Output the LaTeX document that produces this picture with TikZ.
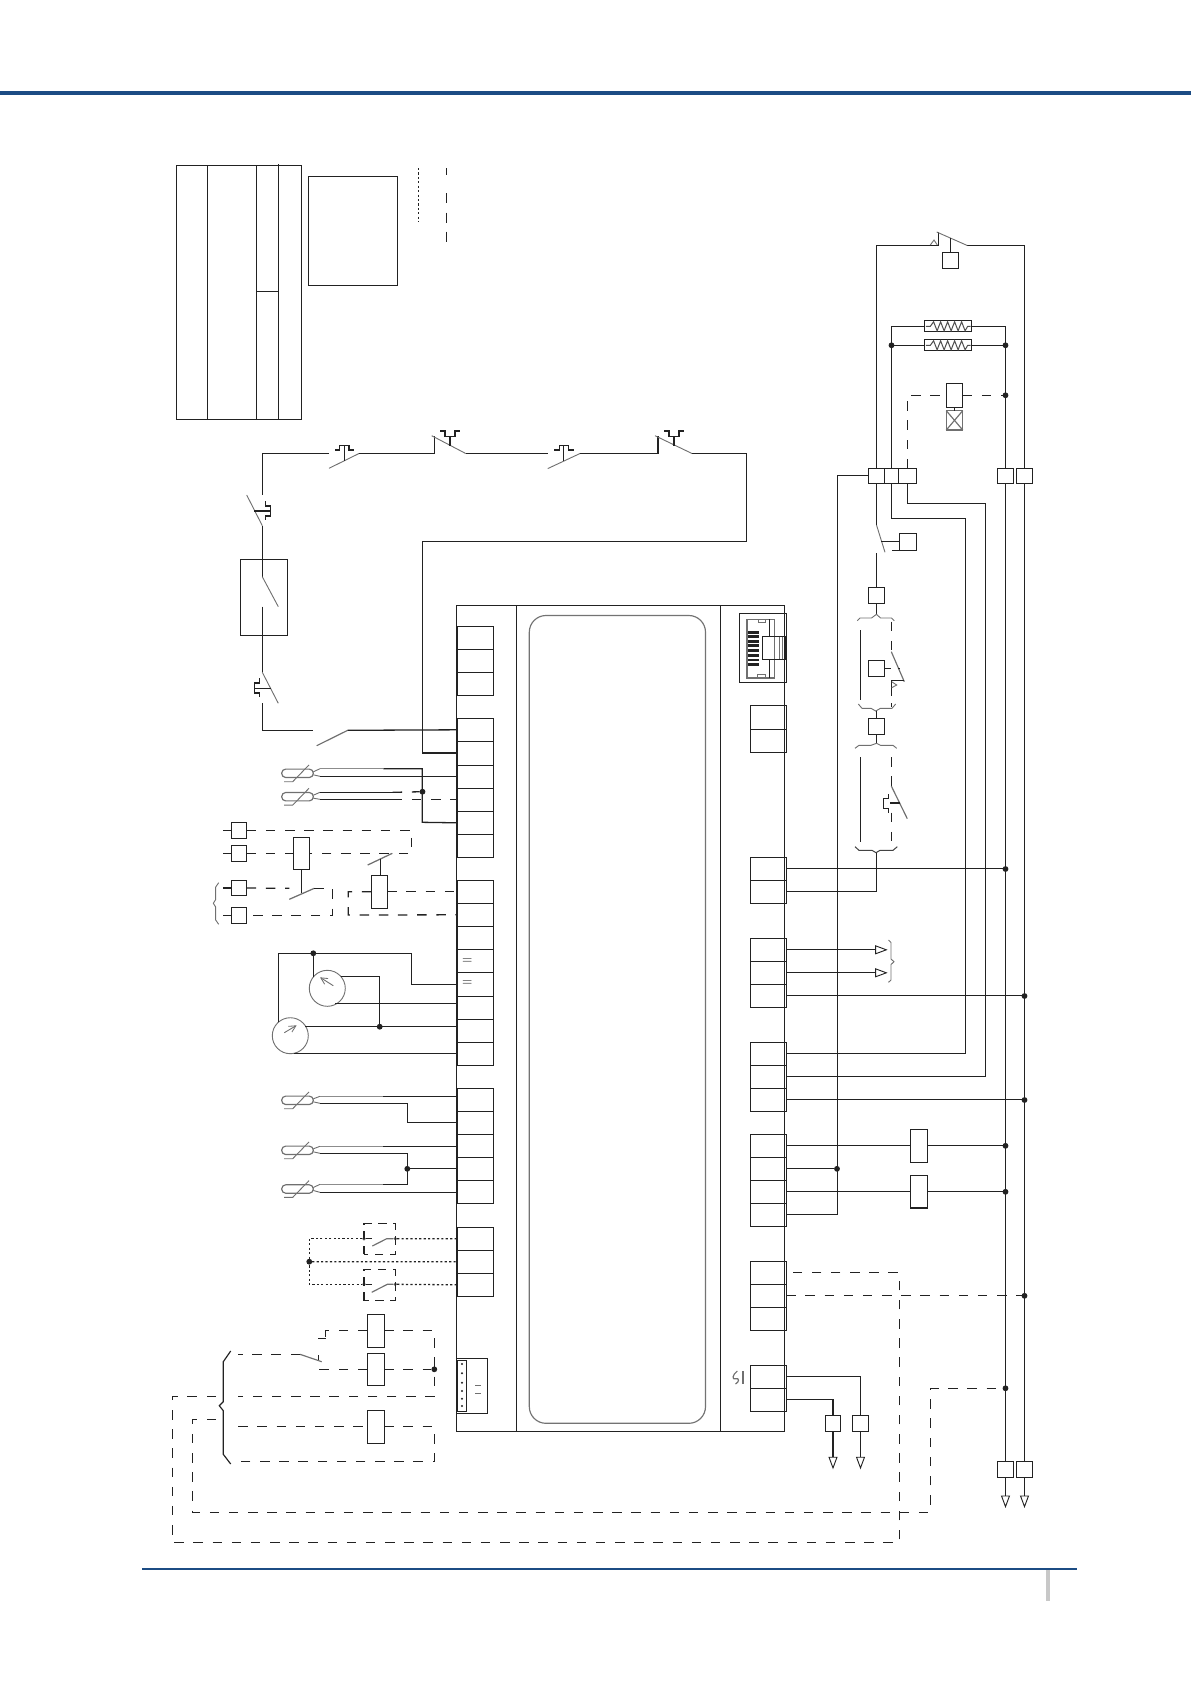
\documentclass[tikz,border=0pt]{standalone}
\usetikzlibrary{arrows.meta,calc}
\definecolor{ink}{HTML}{222222}
\definecolor{bluebar}{HTML}{1C4C84}
\definecolor{greybar}{HTML}{C8C8C8}
\definecolor{thin}{HTML}{707070}
\tikzset{
  wire/.style={line width=.78pt,draw=ink},
  dsh/.style={wire,dash pattern=on 5.7pt off 5.8pt},
  dtd/.style={wire,dash pattern=on 1.3pt off 1.35pt},
  gl/.style={line width=.55pt,draw=thin},
  graywire/.style={line width=.9pt,draw=black!45},
  boxs/.style={rectangle,wire,inner sep=0pt,outer sep=0pt},
  jn/.style={circle,fill=ink,draw=none,inner sep=0pt,outer sep=0pt,minimum size=3.5pt},
  cn/.style={circle,fill=black!65,draw=none,inner sep=0pt,outer sep=0pt,minimum size=2.2pt},
  arr/.style={wire,-{Triangle[open,length=7.5pt,width=5.4pt,line width=.55pt]}},
  needle/.style={gl,-{Straight Barb[length=4pt,width=4pt,line width=.5pt]}}
}
\newcommand\Rb[6][]{%
  \pgfmathsetmacro\rbw{((#5)-(#3))*0.6}\pgfmathsetmacro\rbh{((#6)-(#4))*0.6}%
  \node[boxs,minimum width=\rbw pt,minimum height=\rbh pt,#1] (#2) at ({((#3)+(#5))/2},{((#4)+(#6))/2}) {};}
\newcommand\Cells[4]{%
  \foreach \yy [count=\ii, remember=\yy as \pv (initially 0)] in {#4} {%
    \ifnum\ii>1 \pgfmathtruncatemacro\jj{\ii-1}\Rb{#1\jj}{#2}{\pv}{#3}{\yy}\fi}}
\newcommand\Jn[3]{\node[jn] (#1) at (#2,#3) {};}
% sensor: name, centre y, upper wire y, lower wire y
\newcommand\Snsr[4]{%
  \Rb[gl,line width=.7pt,rounded corners=2.4pt]{#1}{281.7}{#2-4.2}{313.3}{#2+4.2}
  \coordinate (#1u) at (320,#3);
  \coordinate (#1g) at (383.3,#3);
  \coordinate (#1l) at (320,#4);
  \draw[gl] (313.3,#2-1.5) -- (#1u);
  \draw[gl] (313.3,#2+1.5) -- (#1l);
  \draw[graywire] (#1u) -- (#1g);
  \draw[gl] (284,#2+8.4) -- (292.7,#2+8.4) -- (309,#2-8.4);}
\newcommand\Resist[5]{%
  \Rb{#1}{#2}{#3}{#4}{#5}
  \pgfmathsetmacro\rc{((#3)+(#5))/2}%
  \draw[line width=.6pt,draw=ink!80] (#2+1.5,\rc) -- (#2+6,\rc)
    \foreach \k in {0,...,4} { -- ({#2+9.3+\k*7},\rc-4.5) -- ({#2+12.8+\k*7},\rc+4.5) }
    -- (#4-4,\rc) -- (#4-1,\rc);}
\begin{document}
\begin{tikzpicture}[x=0.6pt,y=-0.6pt]
\useasboundingbox (0,0) rectangle (1191,1684);
% page furniture
\fill[bluebar] (0,90.7) rectangle (1191,95.3);
\fill[bluebar] (142,1568) rectangle (1076.7,1570.2);
\fill[greybar] (1046,1570.2) rectangle (1050,1600.7);
% table top left
\Rb{tbl}{176.3}{165.3}{301.3}{419.3}
\draw[wire] (207.3,165.3) -- (207.3,419.3);
\draw[wire] (256.3,165.3) -- (256.3,419.3);
\draw[wire] (278.3,164) -- (278.3,419.3);
\draw[wire] (256.3,291.3) -- (278.3,291.3);
\Rb{legbox}{308.3}{176.3}{397.7}{285.3}
\draw[line width=.7pt,draw=ink,dash pattern=on 1.3pt off 1.35pt] (418.3,168) -- (418.3,222);
\draw[wire] (446.3,168) -- (446.3,175) (446.3,193) -- (446.3,203) (446.3,212.7) -- (446.3,222.7) (446.3,231.7) -- (446.3,241.7);
% controller module
\Rb{mod}{456.7}{605.3}{784.3}{1431.5}
\draw[wire] (516.3,605.3) -- (516.3,1431.5);
\draw[wire] (720.7,605.3) -- (720.7,1431.5);
\Rb[line width=.7pt,draw=black!55,rounded corners=10pt]{disp}{529.3}{615.5}{705.5}{1423.3}
% left terminals
\Cells{La}{457.3}{493.3}{626.3,649.3,672.3,695.3}
\Cells{Lb}{457.3}{493.3}{718.3,741.3,765.3,788.3,811.3,834.3,857.3}
\Cells{Lc}{457.3}{493.3}{880.3,903.3,926.3,949.3,972.3,996.3,1019.3,1042.3,1065.3}
\Cells{Ld}{457.3}{493.3}{1088.3,1111.3,1134.3,1157.3,1180.3,1203.3}
\Cells{Le}{457.3}{493.3}{1227.3,1250.3,1273.3,1296.3}
\node[inner sep=0pt,font=\fontsize{7.5}{8}\selectfont,text=ink] (eqa) at (467.2,961.5) {=};
\node[inner sep=0pt,font=\fontsize{7.5}{8}\selectfont,text=ink] (eqb) at (467.2,983.5) {=};
% connector
\Rb{conO}{456.7}{1358.3}{487.3}{1413.3}
\Rb{conI}{457.3}{1360.7}{466.7}{1411.3}
\foreach \y in {1364,1373.3,1382.7,1391,1398.7,1406} \fill[ink] (462,\y) circle (1.1);
\draw[gl] (475,1385) -- (480.7,1385);
\draw[gl] (475,1393.3) -- (480.7,1393.3);
% right terminals
\Rb{rjO}{739.3}{613.3}{786.3}{682.3}
\Rb[gl,line width=.8pt]{rjI}{747}{619.3}{774.3}{678}
\Rb[gl]{rjTa}{758.3}{619.3}{765.7}{622.3}
\Rb[gl]{rjTb}{757.3}{674.7}{765.7}{678}
\foreach \y in {632.7,636.7,641.3,645.7,650.7,655.3,660,664.7} \fill[ink] (747.7,\y-1.3) rectangle (759,\y+1.3);
\Rb{rjL}{762.3}{636.7}{786}{659.3}
\draw[wire] (769.3,619.3) -- (769.3,636.7);
\draw[wire] (769.3,659.3) -- (769.3,678);
\draw[gl] (779,636.7) -- (779,659.3);
\draw[gl] (782.3,636.7) -- (782.3,659.3);
\Cells{Ra}{750.3}{786.3}{705.3,729.3,752.3}
\Cells{Rb}{750.3}{786.3}{857.3,880.3,903.3}
\Cells{Rc}{750.3}{786.3}{938.3,961.3,984.3,1007.3}
\Cells{Rd}{750.3}{786.3}{1042.3,1065.3,1088.3,1111.3}
\Cells{Re}{750.3}{786.3}{1134.3,1157.3,1180.3,1203.3,1226.3}
\Cells{Rf}{750.3}{786.3}{1261.3,1284.3,1307.3,1330.3}
\Cells{Rg}{750.3}{786.3}{1365.3,1388.3,1411.3}
\draw[gl,line width=.7pt] (737.3,1371) .. controls (732,1375) and (732,1380) .. (735.5,1378.8) .. controls (739.5,1377.5) and (739.5,1382) .. (735.5,1384);
\draw[gl,line width=.7pt] (743,1371) -- (743,1384);

% ---- safety chain ----
\coordinate (ch1) at (262.3,453.5);
\coordinate (ch2) at (329,453.5);
\coordinate (ch3) at (359,453.5);
\coordinate (ch4) at (434.3,453.5);
\coordinate (ch5) at (434.3,435.7);
\coordinate (ch6) at (465.7,453.5);
\coordinate (ch7) at (547.7,453.5);
\coordinate (ch8) at (580,453.5);
\coordinate (ch9) at (658,453.5);
\coordinate (ch10) at (658,435.7);
\coordinate (ch11) at (692,453.5);
\coordinate (ch12) at (746.5,541.3);
\coordinate (ch13) at (422.3,753);
\draw[wire] (ch2) -- (ch1) -- (262.3,495);
\draw[wire] (ch3) -- (ch4) -- (ch5);
\draw[wire] (ch6) -- (ch7);
\draw[wire] (ch8) -- (ch9) -- (ch10);
\draw[wire] (ch11) -| (ch12) -- (422.3,541.3) -- (ch13) -- (ch13 -| Lb2.west);
\draw[gl] (329,468.3) -- (ch3);
\draw[gl] (431.7,435.7) -- (ch6);
\draw[gl] (547.7,468.6) -- (ch8);
\draw[gl] (655,435.7) -- (ch11);
% actuators on the chain
\foreach \ax in {344.3,563.7} {
  \draw[wire,line width=.65pt] (\ax-9.3,450) -- (\ax-4.6,450) -- (\ax-4.6,445.7) -- (\ax+4.7,445.7) -- (\ax+4.7,450) -- (\ax+10,450);
  \draw[wire,line width=.65pt] (\ax,445.7) -- (\ax,460.7);}
\draw[wire,line width=.65pt] (440,431) -- (445,431) -- (445,436.7) -- (455,436.7) -- (455,431) -- (460,431);
\draw[wire,line width=.65pt] (450,436.7) -- (450,445.7);
\draw[wire,line width=.65pt] (664,431) -- (669,431) -- (669,436.7) -- (679,436.7) -- (679,431) -- (684,431);
\draw[wire,line width=.65pt] (674,436.7) -- (674,445.7);
% left column of chain
\draw[gl] (246.7,495) -- (262.3,525.7);
\draw[wire,line width=.65pt] (254.3,511) -- (270.7,511) (265.3,501) -- (265.3,506) -- (270.7,506) -- (270.7,516) -- (265.3,516) -- (265.3,520);
\draw[wire] (262.3,525.7) -- (262.3,576.7);
\draw[gl] (262.3,576.7) -- (278.3,606.7);
\draw[wire] (262.3,606.7) -- (262.3,672.3);
\Rb{bKey}{240.3}{559.3}{287.7}{635.3}
\draw[gl] (262.3,672.3) -- (278.3,703.3);
\draw[wire,line width=.65pt] (254.3,688.3) -- (270.7,688.3) (259.3,678.3) -- (259.3,683) -- (254.3,683) -- (254.3,693) -- (259.3,693) -- (259.3,697.3);
\coordinate (ch14) at (262.3,703.3);
\coordinate (ch15) at (313.3,730.3);
\coordinate (ch16) at (347.7,730.3);
\draw[wire] (ch14) |- (ch15);
\draw[gl,line width=.7pt] (316.7,745.7) -- (ch16);
\draw[wire] (ch16) -- (Lb1.west);

% ---- sensors ----
\Snsr{sA}{773.3}{768.7}{776.3}
\Snsr{sB}{796.7}{792.3}{799.3}
\Snsr{sC}{1100.3}{1096.3}{1103.3}
\Snsr{sD}{1150.3}{1146.3}{1153.3}
\Snsr{sE}{1189}{1184.3}{1192.3}
\Jn{jS}{422.5}{791.7}
\draw[wire] (sAg) -- (422.3,768.7) -- (422.3,822.3) -- (Lb5.west);
\draw[wire] (sAl) -- (sAl -| Lb2.west);
\draw[wire] (sBu) -- (392.7,792.3);
\draw[wire] (sBl) -- (392.7,799.3);
\draw[dsh] (392.7,792.3) -- (jS);
\draw[dsh] (392.7,799.3) -- (392.7,799.3 -| Lb4.west);
\draw[wire] (sCg) -- (sCg -| Ld1.west);
\draw[wire] (sCl) -- (407.3,1103.3) |- (Ld2.west);
\draw[wire] (sDg) -- (sDg -| Ld3.west);
\draw[wire] (sDl) -- (407.3,1153.3) -- (407.3,1184.3) -- (sEg);
\Jn{jT}{407.3}{1168.8}
\draw[wire] (jT) -- (Ld4.west);
\draw[wire] (sEl) -- (sEl -| Ld5.west);

% ---- relays left ----
\foreach \n/\ya/\yb in {qa/822.3/838.3,qb/845.3/861.3,qc/880.3/895.7,qd/907.8/923.2} {
  \Rb{\n}{231.3}{\ya}{246.7}{\yb}
  \draw[wire] (223.3,{(\ya+\yb)/2}) -- (\n.west);}
\Rb{kA}{293.3}{837.3}{309.7}{869.3}
\Rb{kB}{371.3}{875.3}{387.3}{908.3}
\coordinate (qx) at (411.7,830.3);
\coordinate (qy) at (411.7,853.3);
\draw[dsh] (qa.east) -- (qx) -- (qy) -- (kA.east);
\draw[dsh] (qb.east) -- (kA.west);
\draw[gl,line width=.75pt] (367.7,865) -- (392.3,853.3);
\draw[wire] (380.3,875.3) -- (380.3,859);
\draw[wire] (kA.south) -- (301.5,892.7);
\draw[gl,line width=.75pt] (289.3,899.3) -- (314.3,888.3);
\coordinate (qz) at (332.3,888.3);
\draw[dsh] (qc.east) -- (289.3,888.3);
\draw[dsh] (314.3,888.3) -- (qz) -- (332.3,915.5) -- (qd.east);
\coordinate (qw) at (348.3,891.8);
\draw[dsh] (kB.east) -- (Lc1.west);
\draw[dsh] (kB.west) -- (qw) -- (348.3,915) -- (Lc2.west);
\draw[gl] (218.7,882.7) -- (215.7,887) -- (215.7,899.5) -- (213.3,903.3) -- (215.7,907) -- (215.7,920) -- (218.7,924.3);

% ---- gauges ----
\node[circle,gl,inner sep=0pt,outer sep=0pt,minimum size=21.6pt] (gA) at (327.3,988.3) {};
\node[circle,gl,inner sep=0pt,outer sep=0pt,minimum size=21.6pt] (gB) at (290.3,1035.7) {};
\draw[needle] (333.3,985.7) -- (320,977.3);
\draw[needle] (284.3,1032.7) -- (296.7,1025.3);
\Jn{jG}{313.3}{953.3}
\Jn{jH}{379.7}{1026.7}
\coordinate (gt1) at (278.3,953.3);
\coordinate (gt2) at (411.3,953.3);
\draw[wire] (278.3,1021.7) -- (gt1) -- (gt2) |- (Lc5.west);
\draw[wire] (jG) -- (313.3,976.7);
\draw[wire] (340.7,976.3) -- (379.7,976.3) -- (jH);
\coordinate (ga) at (335,1003.3);
\coordinate (gb) at (305,1026.7);
\coordinate (gc) at (294,1053.3);
\draw[wire] (ga) -- (ga -| Lc6.west);
\draw[wire] (gb) -- (gb -| Lc7.west);
\draw[wire] (gc) -- (gc -| Lc8.west);

% ---- digital inputs ----
\Jn{jD}{309.3}{1261.7}
\coordinate (da) at (309.3,1238.7);
\coordinate (db) at (309.3,1284.3);
\node[cn] (ca1) at (364,1238.7) {};
\node[cn] (ca2) at (395.3,1238.7) {};
\node[cn] (cb1) at (364,1284.3) {};
\node[cn] (cb2) at (395.3,1284.3) {};
\draw[dtd] (ca1) -- (da) -- (db) -- (cb1);
\draw[dtd] (jD) -- (Le2.west);
\draw[dtd] (ca2) -- (Le1.west);
\draw[dtd] (cb2) -- (Le3.west);
\draw[wire,line width=.65pt] (ca1) -- (372,1238.7);
\draw[wire,line width=.65pt] (cb1) -- (372,1284.3);
\draw[gl,line width=.7pt] (372.3,1246) -- (386.7,1238.7) -- (ca2);
\draw[gl,line width=.7pt] (371.7,1292.3) -- (387.3,1284.3) -- (cb2);
\draw[line width=.65pt,draw=ink,dash pattern=on 5pt off 4pt] (364,1254.3) -- (364,1223.5) -- (395.3,1223.5) -- (395.3,1254.3) -- cycle;
\draw[line width=.65pt,draw=ink,dash pattern=on 5pt off 4pt] (364,1300.5) -- (364,1269.5) -- (395.3,1269.5) -- (395.3,1300.5) -- cycle;

% ---- lower left relays ----
\Rb{rA}{367.3}{1314.3}{384.3}{1347.3}
\Rb{rB}{367.3}{1353.3}{384.3}{1385.3}
\Rb{rC}{367.3}{1410.3}{384.3}{1443.3}
\Jn{jR}{434.3}{1369.3}
\coordinate (wa) at (434.3,1330.8);
\coordinate (wb) at (325.7,1330.8);
\coordinate (wc) at (325.7,1338.3);
\coordinate (wd) at (318.3,1338.3);
\coordinate (we) at (318.3,1355.3);
\coordinate (wf) at (300,1354.3);
\coordinate (wg) at (238.3,1354.3);
\draw[dsh] (rA.east) -- (wa) -- (434.3,1396.3) -- (238.3,1396.3);
\draw[dsh] (216,1396.3) -- (172.3,1396.3) -- (172.3,1542.3) -- (899.7,1542.3) |- (Rf1.east);
\draw[dsh] (rA.west) -- (wb) -- (wc);
\draw[wire] (wc) -- (wd);
\draw[dsh] (rB.east) -- (jR);
\draw[dsh] (rB.west) -- (318.3,1369.3) -- (we);
\draw[gl,line width=.7pt] (wf) -- (321.7,1361.7);
\draw[dsh] (wf) -- (wg);
\draw[dsh] (238.3,1426.8) -- (rC.west);
\draw[dsh] (rC.east) -- (434.3,1426.8) -- (434.3,1461.3) -- (238.3,1461.3);
\draw[dsh] (216,1419.3) -- (192.3,1419.3) -- (192.3,1512.3) -- (930.3,1512.3) -- (930.3,1388.3) -- (1000,1388.3);
\draw[wire,line width=.7pt] (230.7,1351) -- (223.3,1361.7) -- (223.3,1401.7) -- (219.3,1405.7) -- (223.3,1410.7) -- (223.3,1454.3) -- (230.7,1464);

% ---- upper right loads ----
\Rb{tl1}{868.8}{468.3}{884.2}{483.3}
\Rb{tl2}{884.2}{468.3}{898.8}{483.3}
\Rb{tl3}{898.8}{468.3}{916.2}{483.3}
\Rb{trA}{997.8}{468.3}{1013.2}{483.3}
\Rb{trB}{1016.3}{468.3}{1032.7}{483.3}
\Rb{brA}{997.8}{1461.3}{1013.2}{1477.3}
\Rb{brB}{1016.3}{1461.3}{1032.7}{1477.3}
\draw[wire] (trA.south) -- (brA.north);
\draw[wire] (trB.south) -- (brB.north);
\coordinate (tipA) at (1005.5,1508);
\coordinate (tipB) at (1024.5,1508);
\draw[arr] (brA.south) -- (tipA);
\draw[arr] (brB.south) -- (tipB);
% thermostat top
\coordinate (ta) at (938.3,245.5);
\coordinate (tb) at (967.3,245.5);
\draw[wire] (tl1.north) |- (ta) -- (938.3,232.3);
\draw[wire] (trB.north) |- (tb);
\draw[gl] (936.7,232) -- (tb);
\draw[gl] (930.3,245) -- (934,240) -- (937.3,245);
\Rb{bT}{942.3}{252.3}{958.7}{268.3}
\draw[wire] (bT.north) -- ++(0,-14);
% heaters
\Resist{hA}{924.3}{320.8}{971.7}{331.8}
\Resist{hB}{924.3}{339.8}{971.7}{350.8}
\Jn{jHa}{891.5}{345.3}
\Jn{jHb}{1005.5}{345.3}
\draw[wire] (tl2.north) |- (hA.west);
\draw[wire] (trA.north) |- (hA.east);
\draw[wire] (jHa) -- (hB.west);
\draw[wire] (jHb) -- (hB.east);
% fan relay
\Rb{kT}{946.3}{383.3}{962.7}{407.3}
\Jn{jK}{1005.5}{395.3}
\draw[dsh] (tl3.north) |- (kT.west);
\draw[dsh] (kT.east) -- (jK);
\Rb[gl,line width=.75pt]{xb}{946.3}{410.7}{962.7}{430}
\draw[wire] (kT.south) -- (xb.north);
\draw[gl,line width=.7pt] (xb.north west) -- (xb.south east);
\draw[gl,line width=.7pt] (xb.north east) -- (xb.south west);
% contact below
\coordinate (sa) at (876.5,525);
\draw[wire] (tl1.south) -- (sa);
\draw[gl] (sa) -- (885,552.3);
\Rb{auxS}{899.3}{533.3}{916.7}{550.3}
\draw[wire] (881,541.8) -- (auxS.west);
\draw[wire] (892,550.3) -- (auxS.south west);
\Rb{bA}{868.8}{587.3}{884.2}{603.3}
\draw[wire] (bA.north) -- ++(0,-34);
% door group 1
\coordinate (braceA) at (876.5,614.3);
\draw[wire,line width=.65pt] (bA.south) -- (braceA);
\draw[gl] (857.3,620.7) -- (860,618) -- (871.5,618) -- (braceA) -- (880.5,618) -- (891.5,618) -- (894.3,620.7);
\draw[wire] (860.3,630) -- (860.3,700);
\Rb{bB}{868.3}{660.3}{884.7}{676.3}
\draw[dsh] (891.3,621.7) -- (891.3,651.7);
\draw[gl,line width=.7pt] (891.3,651.7) -- (904.3,681.7);
\draw[dsh,dash pattern=on 4pt off 4pt] (bB.east) -- (899.7,668.3);
\draw[wire] (904.3,680.7) -- (891.3,680.7) -- (891.3,688);
\draw[dsh,dash pattern=on 5pt off 4pt] (891.3,688) -- (891.3,707);
\draw[gl] (891.7,681.7) -- (896.7,685) -- (891.7,687.7);
\draw[gl] (858.3,704) -- (862,708.3) -- (871,708.3) -- (875.7,711) -- (880.5,708.3) -- (892,708.3) -- (895.7,704);
% door group 2
\Rb{bC}{868.8}{718.3}{884.2}{734.3}
\coordinate (braceB) at (876.5,711);
\draw[wire,line width=.65pt] (braceB) -- (bC.north);
\coordinate (braceC) at (876.5,743.3);
\draw[wire,line width=.65pt] (bC.south) -- (braceC);
\draw[gl] (855,748.3) -- (859,745.3) -- (871,745.3) -- (braceC) -- (880.5,745.3) -- (893,745.3) -- (896.7,748.3);
\draw[wire] (860.3,757.3) -- (860.3,841.7);
\draw[dsh] (891.3,757.3) -- (891.3,786);
\draw[gl,line width=.7pt] (891.3,786) -- (907.3,818.7);
\draw[wire,line width=.65pt] (890,803) -- (900,803) (888.3,794.3) -- (888.3,798.3) -- (883.3,798.3) -- (883.3,808.3) -- (888.3,808.3) -- (888.3,812.7);
\draw[dsh] (891.3,812.7) -- (891.3,846.7);
\draw[line width=.6pt,draw=ink!85] (855,846.7) -- (859,850.3) -- (872,850.3) -- (876,852.7) -- (880,850.3) -- (893,850.3) -- (897.3,846.7);

% ---- right wiring ----
\Jn{jBa}{1005.5}{869}
\Jn{jCa}{1024.5}{996}
\Jn{jDa}{1024.5}{1100}
\draw[wire] (Rb1.east) -- (Rb1.east -| jBa);
\coordinate (bb) at (876.3,852.7);
\draw[wire] (Rb2.east) -| (bb);
\coordinate (ca) at (887.7,949.8);
\coordinate (cc) at (887.7,972.8);
\draw[arr] (Rc1.east) -- (ca);
\draw[arr] (Rc2.east) -- (cc);
\draw[wire] (Rc3.east) -- (Rc3.east -| jCa);
\draw[gl] (888.5,940) -- (891,942.5) -- (891,959) -- (894,961.7) -- (891,964.5) -- (891,980) -- (888.5,982.3);
\coordinate (wD) at (965.7,518.3);
\coordinate (wE) at (985.7,503.3);
\draw[wire] (Rd1.east) -| (wD) -| (tl2.south);
\draw[wire] (Rd2.east) -| (wE) -| (tl3.south);
\draw[wire] (Rd3.east) -- (Rd3.east -| jDa);
\Rb{kC}{910.3}{1129.3}{927.7}{1162.3}
\Rb{kD}{910.3}{1175.6}{927.7}{1208}
\Jn{jEa}{1005.5}{1145.8}
\Jn{jEb}{1005.5}{1191.8}
\Jn{jV}{837}{1168.8}
\coordinate (busV) at (837.3,1214.8);
\draw[wire] (Re1.east) -- (kC.west);
\draw[wire] (kC.east) -- (jEa);
\draw[wire] (Re2.east) -- (jV);
\draw[wire] (Re3.east) -- (kD.west);
\draw[wire] (kD.east) -- (jEb);
\draw[wire] (tl1.west) -| (busV) -- (Re4.east);
\Jn{jFa}{1024.5}{1295.8}
\draw[dsh] (Rf2.east) -- (jFa);
\Jn{jGa}{1005.5}{1388.3}
\Rb{pwA}{825.3}{1415.3}{840.7}{1431.3}
\Rb{pwB}{852.3}{1415.3}{868.7}{1431.3}
\draw[wire] (Rg1.east) -| (pwB.north);
\draw[wire] (Rg2.east) -| (pwA.north);
\coordinate (tipC) at (833,1469.3);
\coordinate (tipD) at (860.5,1469.3);
\draw[arr] (pwA.south) -- (tipC);
\draw[arr] (pwB.south) -- (tipD);
\end{tikzpicture}
\end{document}
